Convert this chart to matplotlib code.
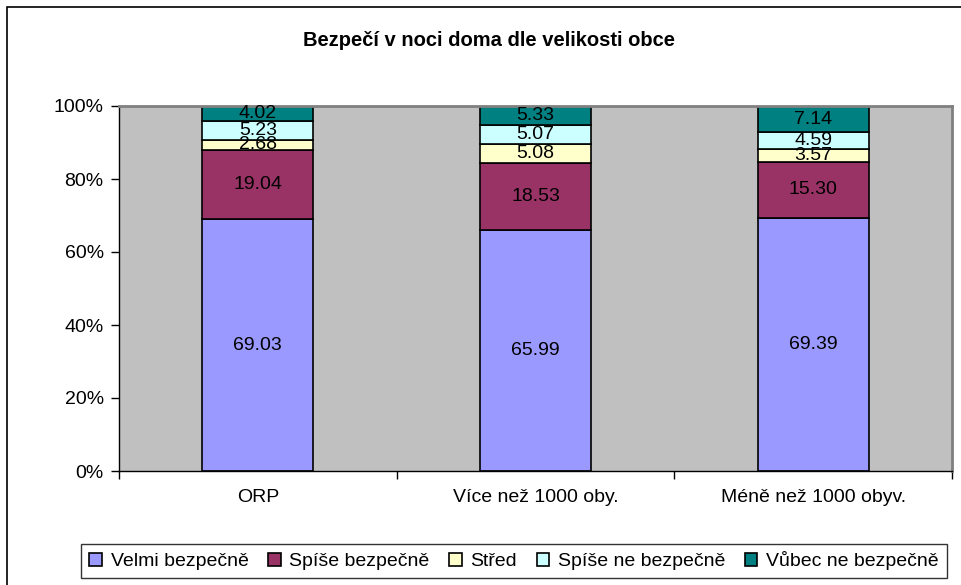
import matplotlib.pyplot as plt
import numpy as np
from matplotlib.patches import Rectangle
from matplotlib.ticker import FixedLocator

plt.rcParams['font.family'] = ['Liberation Sans', 'DejaVu Sans']

# data
categories = ["ORP", "Více než 1000 oby.", "Méně než 1000 obyv."]
series = ["Velmi bezpečně", "Spíše bezpečně", "Střed", "Spíše ne bezpečně", "Vůbec ne bezpečně"]
values = [
    [69.03, 65.99, 69.39],
    [19.04, 18.53, 15.30],
    [2.68, 5.08, 3.57],
    [5.23, 5.07, 4.59],
    [4.02, 5.33, 7.14],
]
colors = ["#9999FF", "#993366", "#FFFFCC", "#CCFFFF", "#008080"]

fig = plt.figure(figsize=(9.61, 5.85), dpi=100)
ax = fig.add_axes([119 / 961, 1 - 471 / 585, 833 / 961, 365 / 585])
ax.set_facecolor("#C0C0C0")

x = np.arange(len(categories))
totals = np.sum(values, axis=0)
bottom = np.zeros(len(categories))
for name, vals, col in zip(series, values, colors):
    pct = np.array(vals) / totals * 100
    ax.bar(x, pct, 0.4, bottom=bottom, color=col, edgecolor="black", linewidth=1.2,
           label=name, zorder=2)
    for xi, b, p, v in zip(x, bottom, pct, vals):
        ax.text(xi, b + p / 2, f"{v:.2f}", ha="center", va="center", fontsize=14, zorder=3)
    bottom += pct

ax.set_xlim(-0.5, 2.5)
ax.set_ylim(0, 100)
ax.set_yticks(np.arange(0, 101, 20))
ax.set_yticklabels([f"{t}%" for t in range(0, 101, 20)], fontsize=14)
ax.xaxis.set_major_locator(FixedLocator([-0.5, 0.5, 1.5, 2.5]))
ax.set_xticklabels([])
ax.set_xticks(x, minor=True)
ax.set_xticklabels(categories, minor=True, fontsize=14)
ax.tick_params(axis="x", which="minor", length=0, pad=13)
ax.tick_params(axis="y", pad=5)
ax.tick_params(axis="both", which="major", direction="out", length=6, width=1, color="black")

for side in ["top", "right"]:
    ax.spines[side].set_color("#808080")
    ax.spines[side].set_linewidth(2)
for side in ["left", "bottom"]:
    ax.spines[side].set_color("black")
    ax.spines[side].set_linewidth(1)

fig.text(489 / 961, 1 - 41 / 585, "Bezpečí v noci doma dle velikosti obce",
         ha="center", va="center", fontsize=14.5, fontweight="bold")

leg = fig.legend(loc="center", bbox_to_anchor=(514 / 961, 1 - 561 / 585), ncol=5,
                 fontsize=14, frameon=True, fancybox=False, edgecolor="black",
                 handlelength=0.65, handleheight=0.65, handletextpad=0.45,
                 columnspacing=1.0, borderpad=0.4)
leg.get_frame().set_linewidth(1)

# outer chart border
fig.patches.append(Rectangle((7 / 961, -0.1), 1.2, 1 - 7 / 585 + 0.1,
                             transform=fig.transFigure, fill=False,
                             edgecolor="black", linewidth=1.2))

fig.savefig("out.png", dpi=100)
